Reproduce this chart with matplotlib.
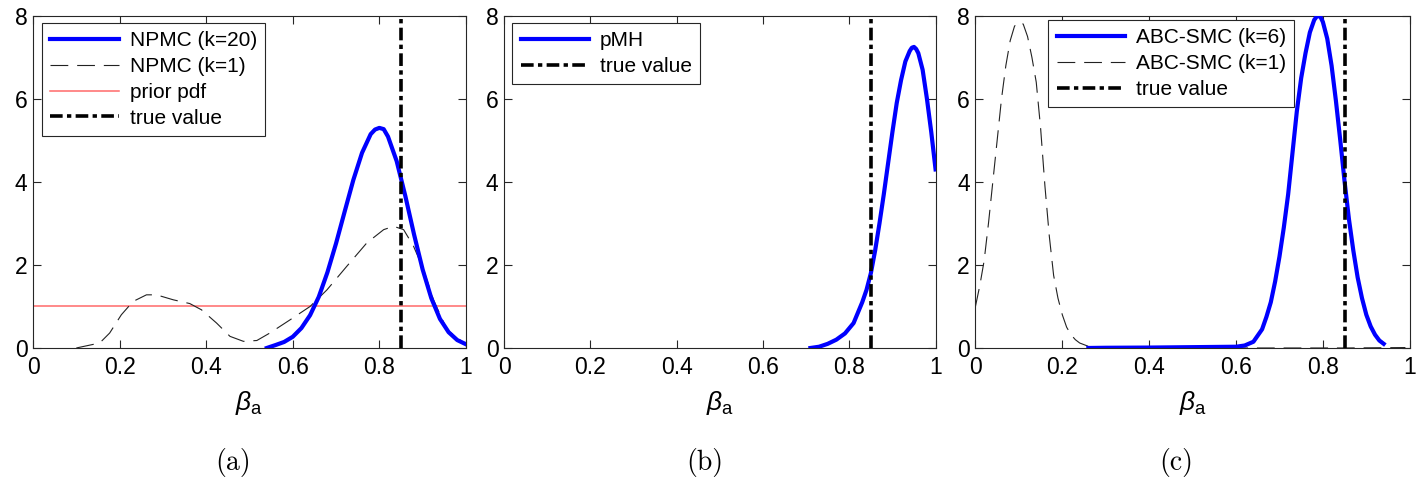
import numpy as np
import matplotlib
matplotlib.use('Agg')
import matplotlib.pyplot as plt
from matplotlib.ticker import FuncFormatter

plt.rcParams['font.family'] = ['Liberation Sans', 'DejaVu Sans']
plt.rcParams['mathtext.fontset'] = 'custom'
plt.rcParams['mathtext.rm'] = 'Liberation Sans'
plt.rcParams['mathtext.it'] = 'Liberation Sans:italic'

# true parameter value
true_value = 0.85

# panel (a): NPMC
npmc20_x = [0.54, 0.56, 0.58, 0.60, 0.62, 0.64, 0.66, 0.68, 0.70, 0.72, 0.74, 0.76, 0.78, 0.79,
            0.80, 0.81, 0.82, 0.84, 0.86, 0.88, 0.90, 0.92, 0.94, 0.96, 0.98, 1.00]
npmc20_y = [0.0, 0.07, 0.145, 0.27, 0.48, 0.79, 1.23, 1.82, 2.52, 3.29, 4.05, 4.70, 5.15, 5.26,
            5.30, 5.27, 5.09, 4.50, 3.66, 2.74, 1.89, 1.20, 0.70, 0.38, 0.19, 0.09]
npmc1_x = [0.10, 0.154, 0.177, 0.204, 0.231, 0.262, 0.285, 0.324, 0.362, 0.389, 0.424, 0.455,
           0.486, 0.517, 0.547, 0.594, 0.64, 0.679, 0.725, 0.771, 0.81, 0.833, 0.856, 0.879,
           0.902, 0.925, 0.956, 1.0]
npmc1_y = [0.0, 0.12, 0.36, 0.80, 1.12, 1.28, 1.28, 1.16, 1.07, 0.92, 0.60, 0.28,
           0.16, 0.18, 0.36, 0.68, 1.0, 1.4, 1.97, 2.53, 2.85, 2.93, 2.85, 2.45,
           1.89, 1.16, 0.44, 0.08]
prior_x = [0.0, 1.0]
prior_y = [1.0, 1.0]

# panel (b): pMH
pmh_x = [0.71, 0.73, 0.75, 0.77, 0.79, 0.81, 0.83, 0.84, 0.85, 0.86, 0.87, 0.88, 0.89, 0.90,
         0.91, 0.92, 0.93, 0.94, 0.945, 0.95, 0.955, 0.96, 0.97, 0.98, 0.99, 1.00]
pmh_y = [0.0, 0.03, 0.1, 0.2, 0.35, 0.6, 1.1, 1.4, 1.8, 2.35, 3.0, 3.7, 4.45, 5.2,
         5.9, 6.45, 6.9, 7.15, 7.23, 7.25, 7.2, 7.1, 6.7, 6.0, 5.2, 4.3]

# panel (c): ABC-SMC
abc6_x = [0.26, 0.30, 0.40, 0.50, 0.60, 0.62, 0.64, 0.66, 0.67, 0.68, 0.69, 0.70, 0.71, 0.72,
          0.73, 0.74, 0.75, 0.76, 0.77, 0.78, 0.785, 0.79, 0.795, 0.80, 0.81, 0.82, 0.83, 0.84,
          0.85, 0.86, 0.87, 0.88, 0.89, 0.90, 0.91, 0.92, 0.93, 0.94]
abc6_y = [0.0, 0.005, 0.01, 0.02, 0.03, 0.06, 0.15, 0.45, 0.75, 1.1, 1.6, 2.2, 2.9, 3.7,
          4.7, 5.7, 6.5, 7.1, 7.6, 7.9, 7.97, 8.0, 7.96, 7.85, 7.45, 6.8, 5.95, 5.0,
          4.0, 3.1, 2.35, 1.7, 1.2, 0.8, 0.52, 0.32, 0.18, 0.1]
abc1_x = [0.0, 0.01, 0.02, 0.03, 0.04, 0.05, 0.06, 0.07, 0.08, 0.09, 0.10, 0.11, 0.12, 0.13,
          0.14, 0.15, 0.16, 0.17, 0.18, 0.19, 0.20, 0.21, 0.22, 0.23, 0.24, 0.26, 0.30, 0.50,
          0.70, 0.85, 0.99]
abc1_y = [1.0, 1.5, 2.1, 3.0, 4.0, 5.0, 6.0, 6.8, 7.4, 7.75, 7.85, 7.8, 7.5, 7.0,
          6.4, 5.3, 3.9, 2.7, 1.75, 1.2, 0.8, 0.5, 0.32, 0.2, 0.12, 0.04, 0.01, 0.0,
          0.0, 0.0, 0.01]

blue = '#0000ff'
dash_style = (0, (16, 8))
tv_style = (0, (3.5, 1.2, 1.2, 1.2))

fig = plt.figure(figsize=(14.24, 4.78), dpi=100)
lefts = [0.0232, 0.354, 0.685]
widths = [0.304, 0.303, 0.305]
axes = [fig.add_axes([l, 0.272, w, 0.695]) for l, w in zip(lefts, widths)]

def fmt(v, pos):
    return '%g' % v

for ax in axes:
    ax.set_xlim(0, 1)
    ax.set_ylim(0, 8)
    ax.set_xticks([0, 0.2, 0.4, 0.6, 0.8, 1.0])
    ax.set_yticks([0, 2, 4, 6, 8])
    ax.xaxis.set_major_formatter(FuncFormatter(fmt))
    ax.tick_params(direction='in', top=True, right=True, length=6, width=0.8,
                   labelsize=16.5, color='#262626', pad=6)
    ax.tick_params(axis='y', pad=4)
    for s in ax.spines.values():
        s.set_color('#262626')
        s.set_linewidth(0.8)
    ax.set_xlabel(r'$\beta_{\mathrm{a}}$', fontsize=19, labelpad=7)

leg_kw = dict(fontsize=15, fancybox=False, edgecolor='#262626', framealpha=1,
              handlelength=3.3, borderpad=0.4, labelspacing=0.33, handletextpad=0.5,
              borderaxespad=0)

ax = axes[0]
ax.plot(npmc20_x, npmc20_y, color=blue, lw=3, label='NPMC (k=20)', zorder=3)
ax.plot(npmc1_x, npmc1_y, color='#222222', lw=0.8, ls=dash_style, label='NPMC (k=1)', zorder=2)
ax.plot(prior_x, prior_y, color='#ff6a6a', lw=1.1, label='prior pdf', zorder=1)
ax.axvline(true_value, color='black', lw=2.6, ls=tv_style, label='true value', zorder=4)
ax.legend(loc='upper left', bbox_to_anchor=(0.021, 0.979), **leg_kw)
ax.get_legend().get_frame().set_linewidth(0.8)

ax = axes[1]
ax.plot(pmh_x, pmh_y, color=blue, lw=3, label='pMH', zorder=3)
ax.axvline(true_value, color='black', lw=2.6, ls=tv_style, label='true value', zorder=4)
ax.legend(loc='upper left', bbox_to_anchor=(0.019, 0.979), **leg_kw)
ax.get_legend().get_frame().set_linewidth(0.8)

ax = axes[2]
ax.plot(abc6_x, abc6_y, color=blue, lw=3, label='ABC-SMC (k=6)', zorder=3)
ax.plot(abc1_x, abc1_y, color='#222222', lw=0.8, ls=dash_style, label='ABC-SMC (k=1)', zorder=2)
ax.axvline(true_value, color='black', lw=2.6, ls=tv_style, label='true value', zorder=4)
ax.legend(loc='upper left', bbox_to_anchor=(0.168, 0.988), **leg_kw)
ax.get_legend().get_frame().set_linewidth(0.8)

for x, lab in zip([233, 705, 1176], ['(a)', '(b)', '(c)']):
    fig.text(x / 1424, 0.033, lab, ha='center', va='center', fontsize=20,
             family=['cmr10', 'DejaVu Serif'])

fig.savefig('out.png', dpi=100)
